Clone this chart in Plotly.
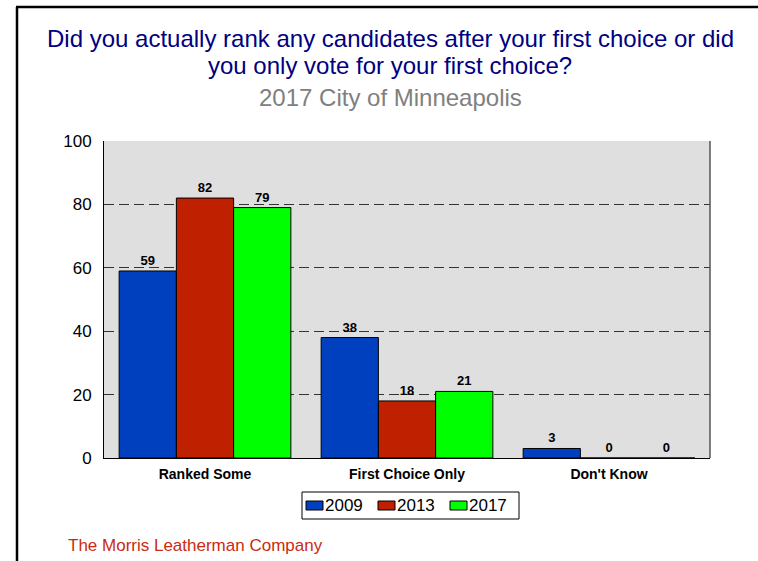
import plotly.graph_objects as go

# Survey responses, percent of respondents
categories = ["Ranked Some", "First Choice Only", "Don't Know"]
years = ["2009", "2013", "2017"]
values_2009 = [59, 38, 3]
values_2013 = [82, 18, 0]
values_2017 = [79, 21, 0]
y_ticks = [0, 20, 40, 60, 80, 100]

colors = {"2009": "#0040BF", "2013": "#BF2000", "2017": "#00FF00"}
series = {"2009": values_2009, "2013": values_2013, "2017": values_2017}

W, H = 758, 561
L, R, T, B = 104, 48, 141, 103
plot_w = W - L - R
plot_h = H - T - B


def px_x(px):
    return (px - L) / plot_w


def px_y(py):
    return (H - B - py) / plot_h


FONT = "Arial, Liberation Sans, sans-serif"

fig = go.Figure()
for yr in years:
    fig.add_trace(go.Bar(
        name=yr,
        x=categories,
        y=series[yr],
        marker=dict(color=colors[yr], line=dict(color="#000000", width=1)),
        text=[str(v) for v in series[yr]],
        textposition="outside",
        textfont=dict(family=FONT, size=13, color="#000000", weight="bold"),
        cliponaxis=False,
        showlegend=False,
    ))

fig.update_layout(
    width=W, height=H,
    margin=dict(l=L, r=R, t=T, b=B),
    paper_bgcolor="#FFFFFF",
    plot_bgcolor="#DFDFDF",
    barmode="group",
    bargap=0.15,
    bargroupgap=0,
    font=dict(family=FONT, color="#000000"),
    showlegend=False,
    xaxis=dict(
        showgrid=False,
        showline=True, linecolor="#000000", linewidth=1,
        ticks="outside", ticklen=3, tickcolor="rgba(0,0,0,0)",
        tickfont=dict(family=FONT, size=14, color="#000000", weight="bold"),
    ),
    yaxis=dict(
        range=[0, 100],
        tickvals=y_ticks,
        showgrid=True, gridcolor="#333333", gridwidth=1, griddash="10px,5px",
        showline=True, linecolor="#000000", linewidth=1,
        zeroline=False,
        ticks="outside", ticklen=8, tickcolor="rgba(0,0,0,0)",
        tickfont=dict(family=FONT, size=17, color="#000000"),
    ),
)

# right edge of the plot frame
fig.add_shape(type="line", xref="paper", yref="paper",
              x0=1, x1=1, y0=0, y1=1,
              line=dict(color="#555555", width=1.5))

# page frame on the left and top
fig.add_shape(type="line", xref="paper", yref="paper",
              x0=px_x(17), x1=px_x(17), y0=px_y(7), y1=px_y(570),
              line=dict(color="#000000", width=2.5))
fig.add_shape(type="line", xref="paper", yref="paper",
              x0=px_x(16), x1=px_x(770), y0=px_y(7), y1=px_y(7),
              line=dict(color="#000000", width=2.5))

# legend: framed row of swatches with year labels
leg_left, leg_right, leg_top, leg_bottom = 302, 519, 492, 519
fig.add_shape(type="rect", xref="paper", yref="paper",
              x0=px_x(leg_left), x1=px_x(leg_right),
              y0=px_y(leg_bottom), y1=px_y(leg_top),
              line=dict(color="#000000", width=1), fillcolor="#FFFFFF",
              layer="below")
item_step = 72
for i, yr in enumerate(years):
    sx = 306 + i * item_step
    fig.add_shape(type="rect", xref="paper", yref="paper",
                  x0=px_x(sx), x1=px_x(sx + 17),
                  y0=px_y(510), y1=px_y(501),
                  line=dict(color="#000000", width=1),
                  fillcolor=colors[yr])
    fig.add_annotation(text=yr, xref="paper", yref="paper",
                       x=px_x(sx + 17), y=px_y(505.5),
                       xanchor="left", yanchor="middle", showarrow=False,
                       xshift=0,
                       font=dict(family=FONT, size=17, color="#000000"))

title_x = px_x(390)
fig.add_annotation(
    text="Did you actually rank any candidates after your first choice or did",
    xref="paper", yref="paper", x=title_x, y=px_y(38),
    xanchor="center", yanchor="middle", showarrow=False,
    font=dict(family=FONT, size=24, color="#000080"))
fig.add_annotation(
    text="you only vote for your first choice?",
    xref="paper", yref="paper", x=title_x, y=px_y(66),
    xanchor="center", yanchor="middle", showarrow=False,
    font=dict(family=FONT, size=24, color="#000080"))
fig.add_annotation(
    text="2017 City of Minneapolis",
    xref="paper", yref="paper", x=title_x, y=px_y(97),
    xanchor="center", yanchor="middle", showarrow=False,
    font=dict(family=FONT, size=24, color="#808080"))

fig.add_annotation(
    text="The Morris Leatherman Company",
    xref="paper", yref="paper", x=px_x(66), y=px_y(545),
    xanchor="left", yanchor="middle", showarrow=False,
    font=dict(family=FONT, size=17, color="#CC2A10"))

fig.write_html("out.html")
